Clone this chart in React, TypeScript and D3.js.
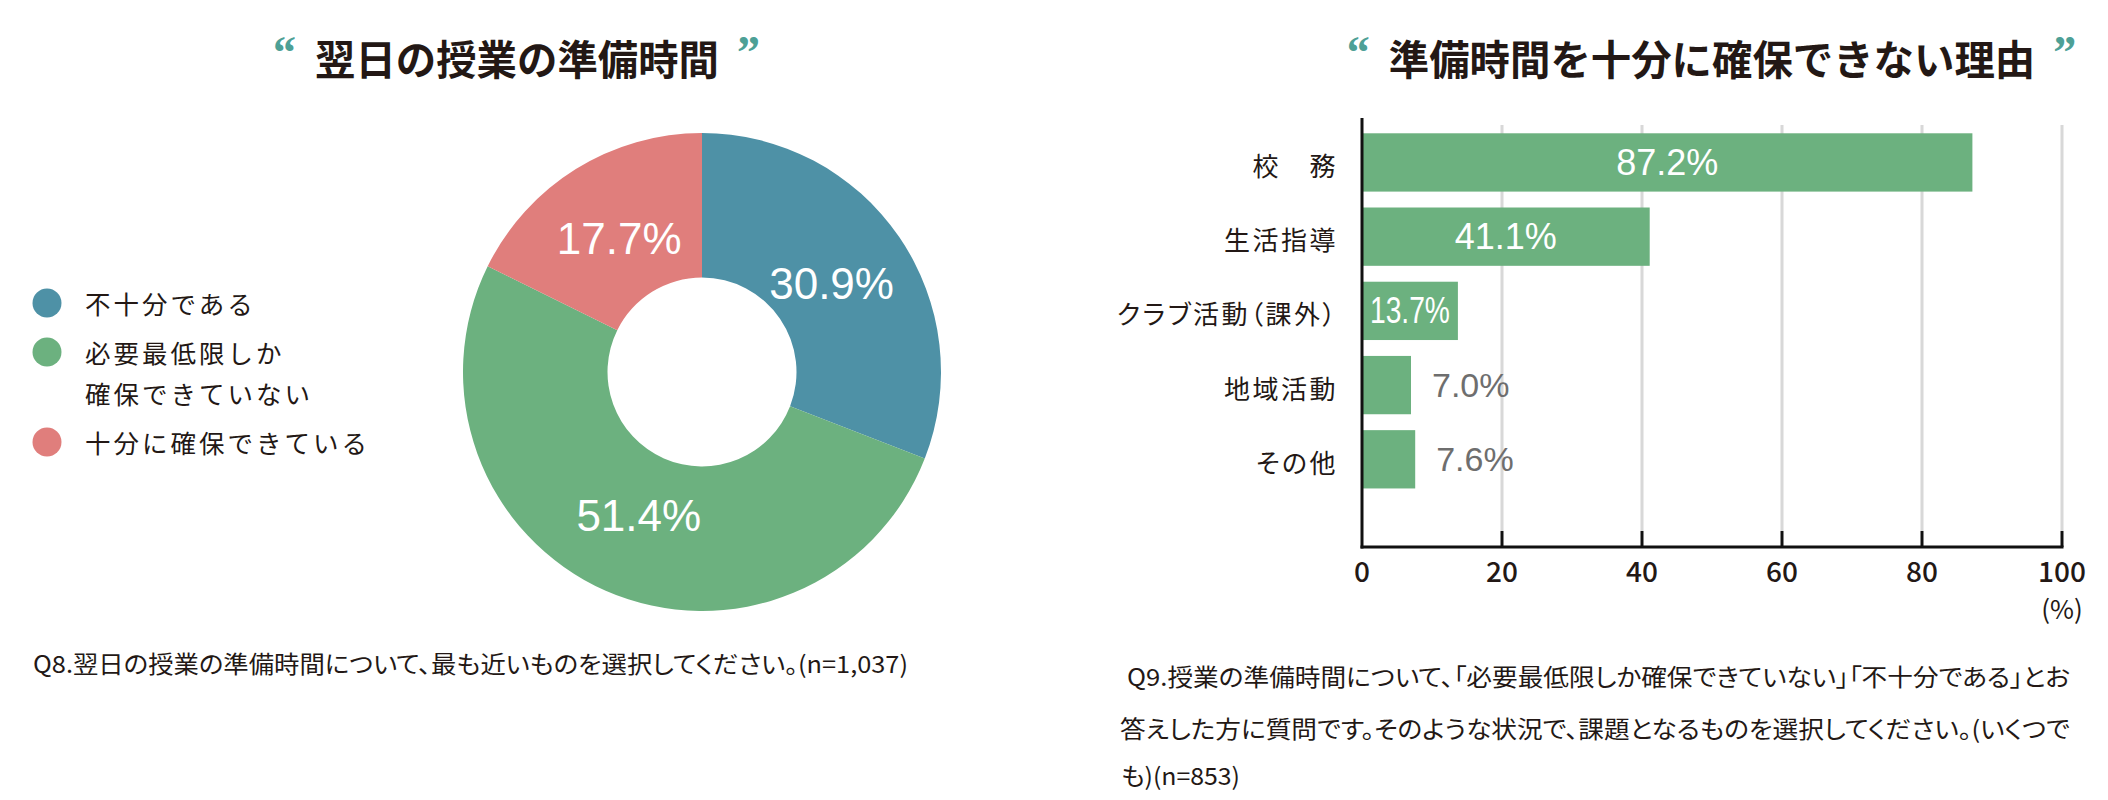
import React from 'react';
import * as d3 from 'd3';

// ---------- data ----------
const leftTitle = '翌日の授業の準備時間';
const rightTitle = '準備時間を十分に確保できない理由';

const pieLabels: string[][] = [['不十分である'], ['必要最低限しか', '確保できていない'], ['十分に確保できている']];
const pieValues = [30.9, 51.4, 17.7];
const pieColors = ['#4E91A6', '#6CB17F', '#E07E7C'];

const barCategories = ['校　務', '生活指導', 'クラブ活動（課外）', '地域活動', 'その他'];
const barValues = [87.2, 41.1, 13.7, 7.0, 7.6];
const xTicks = [0, 20, 40, 60, 80, 100];

const leftCaption = 'Q8.翌日の授業の準備時間について、最も近いものを選択してください。(n=1,037)';
const rightCaption = [
  'Q9.授業の準備時間について、「必要最低限しか確保できていない」「不十分である」とお',
  '答えした方に質問です。そのような状況で、課題となるものを選択してください。(いくつで',
  'も)(n=853)',
];

// ---------- style ----------
const INK = '#231815';
const QUOTE = '#4DA096';
const BAR = '#6CB17F';
const GRID = '#d8d8d8';
const CJK = "'Noto Sans CJK JP', 'Noto Sans', sans-serif";
const NUM = "'Liberation Sans', Arial, sans-serif";
const QFONT = "'Liberation Serif', serif";

function Title({ text, cx }: { text: string; cx: number }) {
  const fs = 40.4;
  const w = text.length * 40.4;
  const x0 = cx - w / 2;
  return (
    <g>
      <text x={x0 - 19} y={68} textAnchor="end" fontFamily={QFONT} fontWeight={700} fontSize={46} fill={QUOTE}>“</text>
      <text x={x0} y={57} dominantBaseline="central" fontFamily={CJK} fontWeight={700} fontSize={fs} fill={INK}
        textLength={w} lengthAdjust="spacingAndGlyphs">{text}</text>
      <text x={x0 + w + 18} y={68} textAnchor="start" fontFamily={QFONT} fontWeight={700} fontSize={46} fill={QUOTE}>”</text>
    </g>
  );
}

const capStyle = { fontFeatureSettings: "'palt'" } as React.CSSProperties;

export default function App() {
  // donut
  const cx = 702, cy = 372;
  const pie = d3.pie<number>().sort(null).value((d) => d)(pieValues);
  const arc = d3.arc<d3.PieArcDatum<number>>().innerRadius(94.5).outerRadius(239);
  const labelArc = d3.arc<d3.PieArcDatum<number>>().innerRadius(157).outerRadius(157);

  // legend layout
  let ly = 302;
  const legendItems = pieLabels.map((lines, i) => {
    const item = { lines, y: ly, color: pieColors[i] };
    ly += 41 * (lines.length - 1) + 49;
    return item;
  });

  // bars
  const x = d3.scaleLinear().domain([0, 100]).range([1362, 2062]);
  const y = d3.scaleBand<string>().domain(barCategories).range([125.35, 496.4]).paddingInner(0.2143).paddingOuter(0.107);
  const axisY = 547;
  const gridTop = 125;

  return (
    <svg width={2108} height={800} style={{ position: 'absolute', left: 0, top: 0, background: '#fff' }}>
      <rect width={2108} height={800} fill="#fff" />
      <Title text={leftTitle} cx={517} />
      <Title text={rightTitle} cx={1712} />

      {/* legend */}
      {legendItems.map((it, i) => (
        <g key={i}>
          <circle cx={47} cy={it.y + 1} r={14.5} fill={it.color} />
          {it.lines.map((l, j) => (
            <text key={j} x={85} y={it.y + j * 41} dominantBaseline="central" fontFamily={CJK} fontSize={25.5}
              letterSpacing={3} fill={INK}>{l}</text>
          ))}
        </g>
      ))}

      {/* donut */}
      <g transform={`translate(${cx},${cy})`}>
        {pie.map((p, i) => (
          <path key={i} d={arc(p) || ''} fill={pieColors[i]} />
        ))}
        {pie.map((p, i) => {
          const [lx, ly2] = labelArc.centroid(p);
          return (
            <text key={i} x={lx} y={ly2} textAnchor="middle" dominantBaseline="central" fontFamily={NUM}
              fontSize={44} fill="#fff">{pieValues[i].toFixed(1)}%</text>
          );
        })}
      </g>

      <text x={33} y={662} dominantBaseline="central" fontFamily={CJK} fontSize={24} fill={INK} style={capStyle}
        textLength={875} lengthAdjust="spacingAndGlyphs">{leftCaption}</text>

      {/* bar chart grid */}
      {xTicks.slice(1).map((t) => (
        <g key={t}>
          <line x1={x(t)} x2={x(t)} y1={gridTop} y2={axisY - 16} stroke={GRID} strokeWidth={3} />
          <line x1={x(t)} x2={x(t)} y1={axisY - 16} y2={axisY} stroke="#111" strokeWidth={3} />
        </g>
      ))}

      {/* bars */}
      {barCategories.map((c, i) => {
        const v = barValues[i];
        const y0 = y(c)!;
        const bw = y.bandwidth();
        const w = x(v) - x(0);
        const inside = v > 10;
        const label = `${v.toFixed(1)}%`;
        return (
          <g key={c}>
            <rect x={x(0)} y={y0} width={w} height={bw} fill={BAR} />
            {inside ? (
              <text x={x(0) + w / 2} y={y0 + bw / 2} textAnchor="middle" dominantBaseline="central" fontFamily={NUM}
                fontSize={36} fill="#fff" {...(w < 130 ? { textLength: w - 16, lengthAdjust: 'spacingAndGlyphs' } : {})}>{label}</text>
            ) : (
              <text x={x(v) + 21} y={y0 + bw / 2} dominantBaseline="central" fontFamily={NUM} fontSize={34}
                fill="#6e6e6e">{label}</text>
            )}
            <text x={1338} y={y0 + bw / 2 + 2} textAnchor="end" dominantBaseline="central" fontFamily={CJK}
              fontSize={26} letterSpacing={2.5} fill={INK} style={capStyle}>{c}</text>
          </g>
        );
      })}

      {/* axes */}
      <line x1={x(0)} x2={x(0)} y1={118} y2={axisY + 1.5} stroke="#111" strokeWidth={3} />
      <line x1={x(0) - 1.5} x2={x(100) + 1.5} y1={axisY} y2={axisY} stroke="#111" strokeWidth={3} />
      {xTicks.map((t) => (
        <text key={t} x={x(t)} y={570} textAnchor="middle" dominantBaseline="central" fontFamily={CJK}
          fontWeight={500} fontSize={28} fill={INK}>{t}</text>
      ))}
      <text x={x(100)} y={607} textAnchor="middle" dominantBaseline="central" fontFamily={CJK} fontSize={26} fill={INK}>(%)</text>

      {/* right caption */}
      <text x={1127} y={675} dominantBaseline="central" fontFamily={CJK} fontSize={24} fill={INK} style={capStyle}
        textLength={943} lengthAdjust="spacingAndGlyphs">{rightCaption[0]}</text>
      <text x={1120} y={727} dominantBaseline="central" fontFamily={CJK} fontSize={24} fill={INK} style={capStyle}
        textLength={950} lengthAdjust="spacingAndGlyphs">{rightCaption[1]}</text>
      <text x={1121} y={774} dominantBaseline="central" fontFamily={CJK} fontSize={24} fill={INK} style={capStyle}
        textLength={119} lengthAdjust="spacingAndGlyphs">{rightCaption[2]}</text>
    </svg>
  );
}
